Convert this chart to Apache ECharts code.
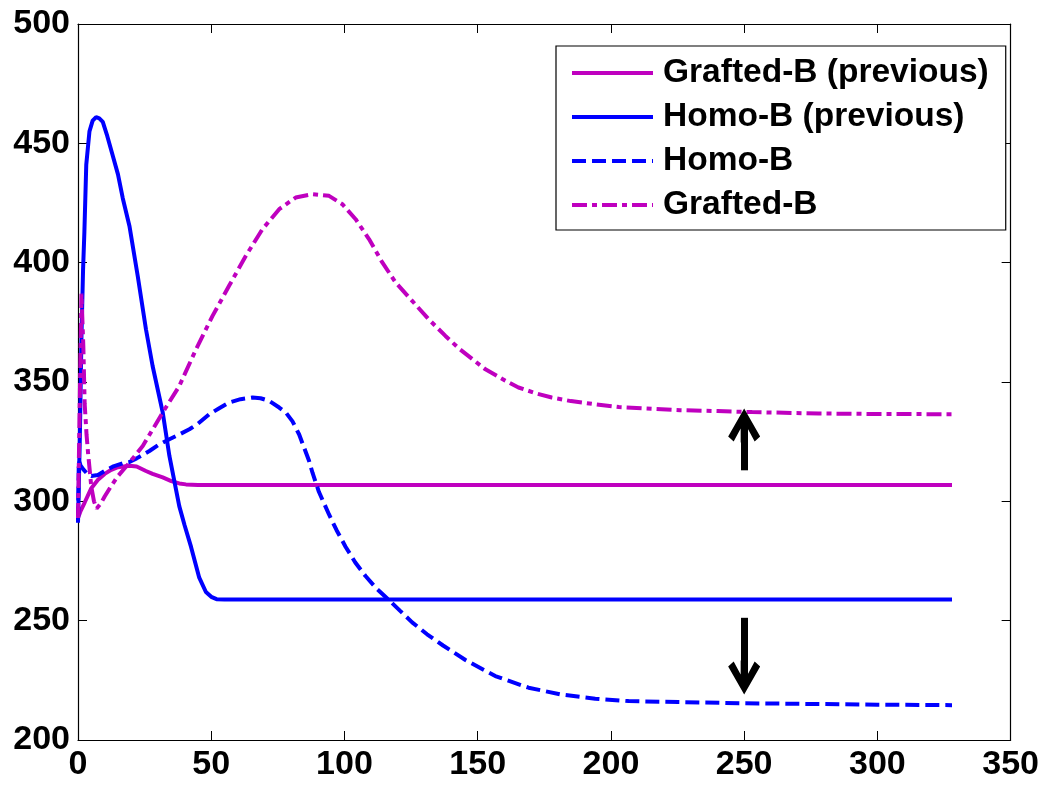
<!DOCTYPE html>
<html>
<head>
<meta charset="utf-8">
<script src="https://cdn.jsdelivr.net/npm/echarts@6/dist/echarts.min.js"></script>
<style>
html,body{margin:0;padding:0;background:#fff;}
#chart{width:1042px;height:785px;}
</style>
</head>
<body>
<div id="chart"></div>
<script>
// ---- data ----
const seriesNames = ['Grafted-B (previous)', 'Homo-B (previous)', 'Homo-B', 'Grafted-B'];

const graftedPrevX = [0, 1, 2.5, 5, 7.5, 10, 12.5, 15, 19.3, 22, 25.5, 28, 31.8, 35, 38, 40.5, 45, 100, 200, 328];
const graftedPrevY = [293, 296, 299.5, 305.5, 309, 311.5, 313.2, 314.3, 314.9, 314.6, 312.7, 311.5, 310, 308.5, 307.5, 307.1, 306.8, 306.8, 306.8, 306.8];

const homoPrevX = [0, 0.7, 1.3, 1.9, 2.4, 3.1, 4.3, 5.5, 6.8, 8, 9.3, 11, 13, 15, 16.8, 19.3, 22.4, 25.5, 28, 31.8, 34.3, 38, 40, 42.4, 45.5, 48, 50, 52, 55, 100, 200, 328];
const homoPrevY = [291, 327, 369, 397, 413, 441, 455, 459.5, 461, 460.5, 459, 453, 445, 437, 427, 415.4, 394.5, 372.1, 356.7, 337.2, 319, 298, 290, 281, 268, 262, 260, 259, 258.9, 258.9, 258.9, 258.9];

const homoX = [0, 0.3, 1, 2, 3.5, 5, 7.5, 10, 13, 17.5, 19.3, 22, 26.8, 30, 34.3, 38, 41.8, 45, 49.3, 53, 56.7, 61, 65.5, 68.5, 71.7, 75.5, 78, 80.5, 83, 86.7, 88, 90.4, 94.2, 97, 100.4, 104, 107.9, 112, 116.7, 121, 125.4, 131, 137, 145.4, 156.6, 169.1, 181.6, 194.1, 206.6, 225.3, 250, 275, 300, 328];
const homoY = [292, 317, 315, 313.4, 311.5, 310.6, 311, 312.7, 314.5, 316.2, 316.5, 318, 321.1, 323.5, 326, 328, 330.2, 332.5, 336.5, 339, 341.4, 342.8, 343.5, 343.2, 342.1, 339.3, 337.2, 333.5, 328, 317, 312, 304, 294.5, 288, 281, 274.5, 268.7, 263.5, 258.6, 254, 249.3, 244.3, 239.6, 233.5, 226.8, 221.9, 219, 217.3, 216.3, 215.9, 215.4, 215.1, 214.8, 214.6];

const graftedX = [0, 0.7, 1.3, 2, 2.5, 3.2, 3.8, 5, 6, 7, 8.5, 10, 12.5, 15, 19.3, 24.3, 31.8, 38, 44.3, 50.5, 56.7, 63, 69.2, 75.5, 81.7, 88, 94.2, 99.2, 104.2, 109.2, 114.2, 119.2, 125.4, 131.6, 137.9, 143, 152.9, 160.4, 165.3, 172, 177.8, 185, 194, 203, 213, 226, 240, 253, 278, 300, 328];
const graftedY = [293, 345, 387, 365, 341, 328, 320, 306, 300, 297, 299, 302, 306.5, 310.6, 316.2, 323.2, 337.2, 348.3, 363.7, 377.7, 390.3, 402.9, 414, 422.4, 427.3, 428.7, 428, 424.5, 418.2, 409.9, 400.1, 391.7, 384, 376.3, 369.3, 364, 355.3, 350.5, 347.7, 345.2, 343.5, 342, 340.7, 339.5, 338.9, 338.2, 337.8, 337.4, 336.8, 336.6, 336.5];

// annotation arrows: [x, fromY, toY]
const arrowUp = [250, 313, 331.8];
const arrowDown = [250, 251.2, 226.2];

const xTicks = {min: 0, max: 350, interval: 50};
const yTicks = {min: 200, max: 500, interval: 50};

// ---- styling ----
const MAGENTA = '#BF00BF';
const BLUE = '#0000FF';
const FONT = '"Liberation Sans", Arial, sans-serif';

function pairs(xs, ys) { return xs.map((x, i) => [x, ys[i]]); }

const arrowHead = 'path://M16,0 L32,28 L26.5,33 L19.5,20 L19.5,34 L12.5,34 L12.5,20 L5.5,33 L0,28 Z';

const axisCommon = {
  axisLine: {show: true, onZero: false, lineStyle: {color: '#000', width: 1.2}},
  axisTick: {show: true, inside: true, length: 9, lineStyle: {color: '#000', width: 1}},
  splitLine: {show: false}
};

const chart = echarts.init(document.getElementById('chart'), null, {renderer: 'canvas'});
chart.setOption({
  animation: false,
  backgroundColor: '#fff',
  grid: {left: 78, right: 31, top: 24, bottom: 45, containLabel: false},
  xAxis: [
    Object.assign({type: 'value', position: 'bottom', min: xTicks.min, max: xTicks.max, interval: xTicks.interval,
      axisLabel: {color: '#000', fontSize: 34, fontWeight: 'bold', fontFamily: FONT, margin: 8}}, axisCommon),
    Object.assign({type: 'value', position: 'top', min: xTicks.min, max: xTicks.max, interval: xTicks.interval,
      axisLabel: {show: false}}, axisCommon)
  ],
  yAxis: [
    Object.assign({type: 'value', position: 'left', min: yTicks.min, max: yTicks.max, interval: yTicks.interval,
      axisLabel: {color: '#000', fontSize: 34, fontWeight: 'bold', fontFamily: FONT, margin: 8}}, axisCommon),
    Object.assign({type: 'value', position: 'right', min: yTicks.min, max: yTicks.max, interval: yTicks.interval,
      axisLabel: {show: false}}, axisCommon)
  ],
  legend: {
    data: seriesNames,
    orient: 'vertical',
    left: 556,
    top: 46,
    padding: [10, 17, 8, 14],
    itemWidth: 81,
    itemHeight: 14,
    itemGap: 10,
    backgroundColor: '#fff',
    borderColor: '#000',
    borderWidth: 1.2,
    borderRadius: 0,
    itemStyle: {opacity: 0, borderWidth: 0},
    lineStyle: {width: 4},
    textStyle: {color: '#000', fontSize: 33.5, fontWeight: 'bold', fontFamily: FONT, lineHeight: 32, padding: [0, 0, 0, 5]}
  },
  series: [
    {name: seriesNames[0], type: 'line', symbol: 'none', data: pairs(graftedPrevX, graftedPrevY),
      lineStyle: {color: MAGENTA, width: 4}, itemStyle: {color: MAGENTA}},
    {name: seriesNames[1], type: 'line', symbol: 'none', data: pairs(homoPrevX, homoPrevY),
      lineStyle: {color: BLUE, width: 4}, itemStyle: {color: BLUE}},
    {name: seriesNames[2], type: 'line', symbol: 'none', data: pairs(homoX, homoY),
      lineStyle: {color: BLUE, width: 4, type: [14, 6]}, itemStyle: {color: BLUE}},
    {name: seriesNames[3], type: 'line', symbol: 'none', data: pairs(graftedX, graftedY),
      lineStyle: {color: MAGENTA, width: 4, type: [15, 5, 5, 5]}, itemStyle: {color: MAGENTA},
      markLine: {
        silent: true,
        symbol: ['none', arrowHead],
        symbolSize: [32, 34],
        label: {show: false},
        lineStyle: {color: '#000', width: 7, type: 'solid'},
        data: [
          [{coord: [arrowUp[0], arrowUp[1]]}, {coord: [arrowUp[0], arrowUp[2]]}],
          [{coord: [arrowDown[0], arrowDown[1]]}, {coord: [arrowDown[0], arrowDown[2]]}]
        ]
      }}
  ]
});
</script>
</body>
</html>
